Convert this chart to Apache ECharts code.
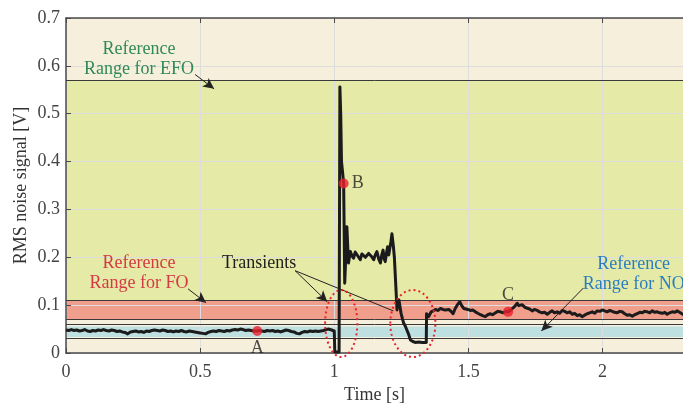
<!DOCTYPE html>
<html>
<head>
<meta charset="utf-8">
<script src="https://cdn.jsdelivr.net/npm/echarts@6/dist/echarts.min.js"></script>
<style>
  html, body { margin: 0; padding: 0; background: #ffffff; }
  #chart { width: 683px; height: 403px; }
</style>
</head>
<body>
<div id="chart"></div>
<script>
const SERIF = '"Liberation Serif", "DejaVu Serif", serif';

// Reference ranges [low, high] in volts
const rangeEFO = [0.111, 0.570];
const rangeFO = [0.0705, 0.111];
const rangeNO = [0.0335, 0.0555];

// RMS noise signal, pairs of [time (s), RMS (V)]
const steadyNormal = [
  [0.00,0.048],[0.01,0.047],[0.02,0.049],[0.03,0.047],[0.04,0.048],[0.05,0.046],[0.06,0.047],[0.07,0.049],
  [0.08,0.046],[0.09,0.045],[0.10,0.047],[0.11,0.046],[0.12,0.048],[0.13,0.047],[0.14,0.049],[0.15,0.047],
  [0.16,0.046],[0.17,0.048],[0.18,0.047],[0.19,0.045],[0.20,0.046],[0.21,0.044],[0.22,0.043],[0.23,0.040],
  [0.24,0.044],[0.25,0.045],[0.26,0.046],[0.27,0.044],[0.28,0.045],[0.29,0.043],[0.30,0.046],[0.31,0.045],
  [0.32,0.047],[0.33,0.048],[0.34,0.047],[0.35,0.046],[0.36,0.048],[0.37,0.047],[0.38,0.045],[0.39,0.046],
  [0.40,0.044],[0.41,0.046],[0.42,0.045],[0.43,0.047],[0.44,0.045],[0.45,0.044],[0.46,0.046],[0.47,0.045],
  [0.48,0.044],[0.49,0.043],[0.50,0.042],[0.51,0.041],[0.52,0.040],[0.53,0.043],[0.54,0.045],[0.55,0.046],
  [0.56,0.045],[0.57,0.047],[0.58,0.046],[0.59,0.045],[0.60,0.047],[0.61,0.046],[0.62,0.048],[0.63,0.049],
  [0.64,0.048],[0.65,0.050],[0.66,0.049],[0.67,0.047],[0.68,0.048],[0.69,0.047],[0.70,0.046],[0.71,0.046],
  [0.72,0.047],[0.73,0.046],[0.74,0.045],[0.75,0.047],[0.76,0.046],[0.77,0.047],[0.78,0.045],[0.79,0.046],
  [0.80,0.044],[0.81,0.046],[0.82,0.048],[0.83,0.047],[0.84,0.045],[0.85,0.044],[0.86,0.041],[0.87,0.040],
  [0.88,0.043],[0.89,0.045],[0.90,0.044],[0.91,0.046],[0.92,0.045],[0.93,0.046],[0.94,0.045],[0.95,0.046],
  [0.96,0.047],[0.97,0.049],[0.98,0.050],[0.99,0.048]
];
const faultOnset = [
  [1.000,0.046],[1.002,0.002],[1.018,0.002],[1.021,0.556],[1.024,0.500],[1.027,0.400],
  [1.031,0.378],[1.035,0.354],[1.037,0.250],[1.039,0.146]
];
const arcPlateau = [
  [1.041,0.174],[1.047,0.264],[1.053,0.188],[1.060,0.212],[1.066,0.203],[1.072,0.198],[1.078,0.211],
  [1.085,0.209],[1.091,0.200],[1.097,0.195],[1.103,0.207],[1.109,0.209],[1.116,0.200],[1.122,0.196],
  [1.128,0.208],[1.134,0.209],[1.140,0.201],[1.147,0.195],[1.153,0.205],[1.159,0.212],[1.166,0.196],
  [1.172,0.188],[1.177,0.205],[1.182,0.215],[1.186,0.197],[1.190,0.191],[1.195,0.210],[1.199,0.222],
  [1.203,0.205],[1.206,0.201],[1.211,0.232],[1.215,0.249],[1.220,0.225],[1.224,0.201]
];
const faultClearing = [
  [1.234,0.090],[1.236,0.104],[1.241,0.111],[1.249,0.083],[1.254,0.072],[1.259,0.062],[1.265,0.056],
  [1.271,0.052],[1.278,0.038],[1.284,0.027],[1.293,0.024],[1.302,0.022],[1.315,0.023],[1.328,0.022],
  [1.343,0.022],[1.344,0.082]
];
const steadyFault = [
  [1.352,0.076],[1.361,0.086],[1.369,0.088],[1.377,0.091],[1.386,0.089],[1.396,0.093],[1.405,0.091],
  [1.414,0.090],[1.420,0.093],[1.427,0.091],[1.435,0.087],[1.443,0.082],[1.450,0.092],[1.458,0.100],
  [1.468,0.107],[1.475,0.099],[1.483,0.093],[1.490,0.095],[1.498,0.091],[1.507,0.089],[1.516,0.090],
  [1.526,0.086],[1.535,0.083],[1.545,0.080],[1.553,0.078],[1.563,0.076],[1.572,0.080],[1.582,0.082],
  [1.590,0.080],[1.601,0.084],[1.610,0.087],[1.619,0.086],[1.630,0.084],[1.640,0.087],[1.648,0.086],
  [1.656,0.089],[1.663,0.093],[1.672,0.097],[1.682,0.104],[1.688,0.099],[1.694,0.097],[1.700,0.101],
  [1.706,0.100],[1.712,0.095],[1.719,0.096],[1.728,0.092],[1.738,0.088],[1.746,0.091],[1.756,0.089],
  [1.765,0.086],[1.775,0.084],[1.784,0.085],[1.794,0.081],[1.803,0.085],[1.812,0.088],[1.821,0.084],
  [1.831,0.086],[1.840,0.083],[1.850,0.089],[1.859,0.087],[1.868,0.084],[1.878,0.086],[1.887,0.081],
  [1.896,0.083],[1.906,0.078],[1.915,0.080],[1.924,0.076],[1.933,0.079],[1.943,0.082],[1.952,0.084],
  [1.962,0.086],[1.971,0.083],[1.980,0.088],[1.990,0.087],[1.999,0.090],[2.008,0.088],[2.017,0.086],
  [2.027,0.089],[2.036,0.087],[2.045,0.085],[2.055,0.084],[2.064,0.087],[2.073,0.086],[2.083,0.082],
  [2.092,0.079],[2.101,0.080],[2.111,0.077],[2.120,0.080],[2.129,0.082],[2.139,0.085],[2.148,0.084],
  [2.157,0.087],[2.167,0.086],[2.176,0.084],[2.185,0.088],[2.195,0.085],[2.204,0.086],[2.213,0.084],
  [2.223,0.083],[2.232,0.085],[2.241,0.081],[2.250,0.084],[2.260,0.086],[2.269,0.085],[2.279,0.088],
  [2.290,0.084],[2.302,0.080]
];

// Highlighted operating points
const pointNames = ['A', 'B', 'C'];
const pointValues = [[0.713, 0.046], [1.035, 0.354], [1.648, 0.086]];

const signal = steadyNormal.concat(faultOnset, arcPlateau, faultClearing, steadyFault);

const chart = echarts.init(document.getElementById('chart'), null, { renderer: 'canvas' });

const axisColor = '#4a4a4a';
const FONT_SIZE = 18;
const labelStyle = { color: '#444', fontFamily: SERIF, fontSize: FONT_SIZE };

const labelPlacement = { A: 'bottom', B: 'right', C: 'top' };

chart.setOption({
  animation: false,
  grid: {
    left: 66, right: 0, top: 18, bottom: 50, outerBoundsMode: 'none', containLabel: false,
    show: true, backgroundColor: '#F6EFDC', borderWidth: 0
  },
  xAxis: [{
    type: 'value', min: 0, max: 2.3, interval: 0.5, z: 3,
    name: 'Time [s]', nameLocation: 'middle', nameGap: 33, nameMoveOverlap: false,
    nameTextStyle: { color: '#333', fontFamily: SERIF, fontSize: FONT_SIZE },
    axisLine: { show: true, onZero: false, lineStyle: { color: axisColor, width: 1.5 } },
    axisTick: { show: true, inside: true, length: 5, lineStyle: { color: axisColor } },
    axisLabel: Object.assign({ margin: 10, showMaxLabel: false }, labelStyle),
    splitLine: { show: true, lineStyle: { color: '#dddddd', width: 1 } }
  }, {
    type: 'value', position: 'top', min: 0, max: 2.3, interval: 0.5, z: 3,
    axisLine: { show: true, onZero: false, lineStyle: { color: axisColor, width: 1.5 } },
    axisTick: { show: true, inside: true, length: 5, lineStyle: { color: axisColor } },
    axisLabel: { show: false },
    splitLine: { show: false }
  }],
  yAxis: {
    type: 'value', min: 0, max: 0.7, interval: 0.1, z: 3,
    name: 'RMS noise signal [V]', nameLocation: 'middle', nameGap: 36, nameMoveOverlap: false,
    nameTextStyle: { color: '#333', fontFamily: SERIF, fontSize: FONT_SIZE },
    axisLine: { show: true, lineStyle: { color: axisColor, width: 1.5 } },
    axisTick: { show: true, inside: true, length: 5, lineStyle: { color: axisColor } },
    axisLabel: Object.assign({ margin: 6 }, labelStyle),
    splitLine: { show: true, lineStyle: { color: '#dddddd', width: 1 } }
  },
  series: [
    {
      // reference range bands with their boundary lines
      type: 'line', data: [], z: 1, silent: true,
      markArea: {
        silent: true,
        data: [
          [{ yAxis: rangeEFO[0], itemStyle: { color: '#E5EAA6' } }, { yAxis: rangeEFO[1] }],
          [{ yAxis: rangeFO[0], itemStyle: { color: '#EF9F8B' } }, { yAxis: rangeFO[1] }],
          [{ yAxis: rangeNO[0], itemStyle: { color: '#BFE0E1' } }, { yAxis: rangeNO[1] }]
        ]
      },
      markLine: {
        silent: true, symbol: 'none', label: { show: false },
        lineStyle: { color: '#3a3a3a', width: 1, type: 'solid' },
        data: [rangeEFO[1], rangeFO[1], rangeFO[0], rangeNO[1], rangeNO[0]].map(v => ({ yAxis: v }))
      }
    },
    {
      type: 'line', data: signal, z: 5, showSymbol: false, silent: true,
      lineStyle: { color: '#1b1b1b', width: 3, join: 'round' }
    },
    {
      type: 'scatter', z: 6, symbolSize: 10, silent: true,
      itemStyle: { color: '#EC1F2A' },
      data: pointNames.map((n, i) => ({
        name: n, value: pointValues[i],
        label: {
          show: true, formatter: n, position: labelPlacement[n], distance: 3,
          color: '#222', fontFamily: SERIF, fontSize: FONT_SIZE
        }
      }))
    },
    {
      // annotation arrows
      type: 'line', data: [], z: 7, silent: true,
      markLine: {
        silent: true, symbolSize: [8, 11], label: { show: false },
        lineStyle: { color: '#222', width: 1, type: 'solid' },
        data: [
          [{ coord: [0.481, 0.582], symbol: 'none' }, { coord: [0.552, 0.552], symbol: 'arrow' }],
          [{ coord: [0.455, 0.134], symbol: 'none' }, { coord: [0.522, 0.105], symbol: 'arrow' }],
          [{ coord: [0.854, 0.172], symbol: 'none' }, { coord: [0.974, 0.107], symbol: 'arrow' }],
          [{ coord: [0.854, 0.172], symbol: 'none' }, { coord: [1.220, 0.088], symbol: 'none' }],
          [{ coord: [1.929, 0.136], symbol: 'none' }, { coord: [1.772, 0.046], symbol: 'arrow' }]
        ]
      }
    }
  ]
});

// Text notes and dotted transient rings, placed in data coordinates
const px = (t, v) => chart.convertToPixel({ gridIndex: 0 }, [t, v]);
const note = (t, v, text, color) => {
  const p = px(t, v);
  return {
    type: 'text', x: p[0], y: p[1], z: 100, silent: true,
    style: {
      text: text, fill: color, fontFamily: SERIF, fontSize: FONT_SIZE, lineHeight: 20,
      align: 'center', verticalAlign: 'middle'
    }
  };
};
const ring = (t, v, dt, dv) => {
  const c = px(t, v), e = px(t + dt, v + dv);
  return {
    type: 'ellipse', z: 100, silent: true,
    shape: { cx: c[0], cy: c[1], rx: Math.abs(e[0] - c[0]), ry: Math.abs(e[1] - c[1]) },
    style: { fill: 'none', stroke: '#E8232B', lineWidth: 2, lineDash: [2, 3] }
  };
};

chart.setOption({
  graphic: [
    note(0.272, 0.614, 'Reference\nRange for EFO', '#2F8A55'),
    note(0.272, 0.167, 'Reference\nRange for FO', '#D43A45'),
    note(2.116, 0.165, 'Reference\nRange for NO', '#2A7EC0'),
    note(0.720, 0.188, 'Transients', '#1e1e1e'),
    ring(1.026, 0.0617, 0.060, 0.070),
    ring(1.293, 0.0617, 0.084, 0.070)
  ]
});
</script>
</body>
</html>
